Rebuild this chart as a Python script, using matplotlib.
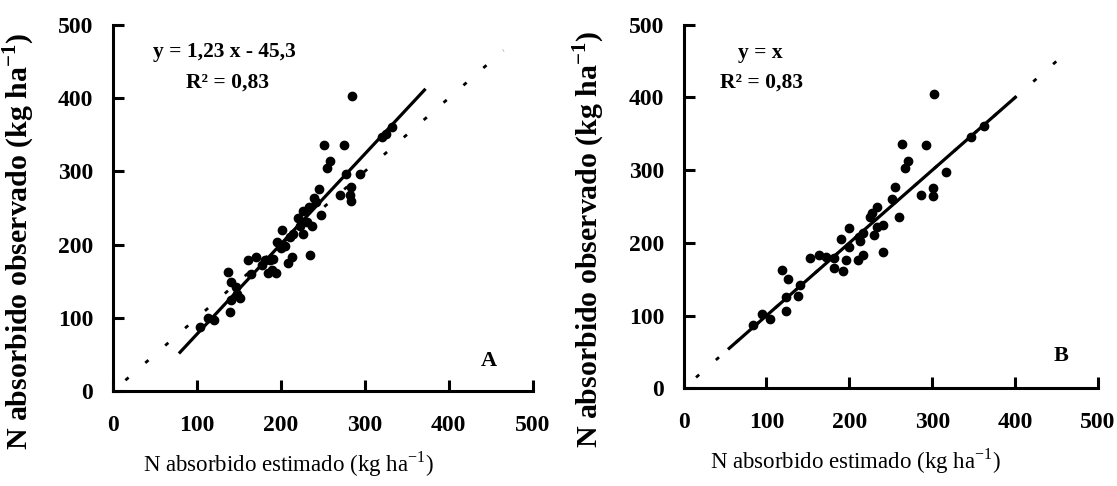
import matplotlib
matplotlib.use("Agg")
import matplotlib.pyplot as plt

plt.rcParams['font.family'] = ['Liberation Serif', 'DejaVu Serif']
plt.rcParams['mathtext.fontset'] = 'custom'
plt.rcParams['mathtext.rm'] = 'Liberation Serif'
plt.rcParams['mathtext.bf'] = 'Liberation Serif:bold'

# Panel A: N uptake estimated by the model vs. observed (kg/ha)
est_a = [285, 252, 275, 259, 255, 320, 325, 294, 245, 284, 282, 270, 283, 240,
         242, 233, 227, 248, 221, 231, 237, 223, 215, 227, 201, 211, 195, 205,
         200, 213, 209, 235, 161, 171, 181, 187, 191, 185, 194, 190, 137, 141,
         151, 141, 148, 139, 121, 113, 104, 147, 165, 178, 278, 332]
obs_a = [403, 336, 336, 314, 304, 347, 351, 296, 276, 278, 268, 268, 260, 263,
         258, 252, 246, 240, 236, 231, 225, 225, 215, 214, 220, 211, 204, 198,
         195, 183, 175, 186, 179, 183, 179, 179, 181, 162, 161, 165, 163, 149,
         127, 124, 132, 108, 97, 100, 87, 142, 160, 172, 297, 360]

# Panel B: corrected estimate vs. observed
est_b = [302, 264, 292, 271, 267, 317, 301, 301, 287, 347, 362, 255, 251, 233,
         227, 260, 225, 241, 233, 230, 217, 213, 200, 190, 200, 217, 210, 241,
         152, 163, 172, 182, 196, 182, 192, 119, 126, 124, 138, 124, 94, 104,
         84, 140, 212]
obs_b = [405, 336, 335, 312, 303, 298, 275, 264, 266, 346, 361, 277, 261, 250,
         241, 235, 236, 225, 222, 211, 213, 202, 220, 205, 195, 183, 177, 187,
         179, 183, 181, 179, 176, 165, 162, 163, 150, 126, 127, 107, 102, 95,
         87, 142, 208]

# fitted lines
slope_a, icpt_a = 1.23, -45.3
fit_a_x = [80, 371]
fit_b_x = [55, 400]
one_to_one = [15, 465]

ticks = [0, 100, 200, 300, 400, 500]

fig = plt.figure(figsize=(11.17, 4.86), dpi=100)
ax_a = fig.add_axes([0.101, 0.195, 0.376, 0.754])
ax_b = fig.add_axes([0.612, 0.201, 0.371, 0.748])


def style_axes(ax):
    ax.set_xlim(0, 500)
    ax.set_ylim(0, 500)
    ax.set_xticks(ticks)
    ax.set_yticks(ticks)
    for side in ['top', 'right']:
        ax.spines[side].set_visible(False)
    for side in ['left', 'bottom']:
        ax.spines[side].set_linewidth(2.2)
    ax.tick_params(direction='in', length=8, width=2.2, labelsize=17)
    ax.tick_params(axis='x', pad=17)
    ax.tick_params(axis='y', pad=14)
    for lbl in ax.get_xticklabels() + ax.get_yticklabels():
        lbl.set_fontweight('bold')


for ax in (ax_a, ax_b):
    style_axes(ax)
    ax.plot(one_to_one, one_to_one, color='black', lw=2,
            linestyle=(0, (1.5, 8)))

ax_a.scatter(est_a, obs_a, s=36, color='black', zorder=3)
ax_a.plot(fit_a_x, [slope_a * x + icpt_a for x in fit_a_x],
          color='black', lw=2.3)
ax_a.text(133, 463, 'y = 1,23 x - 45,3', ha='center', va='center',
          fontsize=15.5, fontweight='bold')
ax_a.text(136, 421, 'R² = 0,83', ha='center', va='center',
          fontsize=15.5, fontweight='bold')
ax_a.text(448, 41, 'A', ha='center', va='center', fontsize=16,
          fontweight='bold')

ax_b.scatter(est_b, obs_b, s=36, color='black', zorder=3)
ax_b.plot(fit_b_x, fit_b_x, color='black', lw=2.3)
ax_b.text(93, 461, 'y = x', ha='center', va='center',
          fontsize=15.5, fontweight='bold')
ax_b.text(94, 421, 'R² = 0,83', ha='center', va='center',
          fontsize=15.5, fontweight='bold')
ax_b.text(456, 44, 'B', ha='center', va='center', fontsize=16,
          fontweight='bold')

ylab = r'N absorbido observado (kg ha$^{\mathbf{-1}}$)'
xlab = r'N absorbido estimado (kg ha$^{-1}$)'
for ax, ly_x, lx_x in ((ax_a, -0.181, 0.417), (ax_b, -0.186, 0.415)):
    ax.set_ylabel(ylab, fontsize=21.5, fontweight='bold')
    ax.yaxis.set_label_coords(ly_x, 0.41)
    ax.set_xlabel(xlab, fontsize=16.5)
    ax.xaxis.set_label_coords(lx_x, -0.16)

fig.savefig('out.png', dpi=100)
